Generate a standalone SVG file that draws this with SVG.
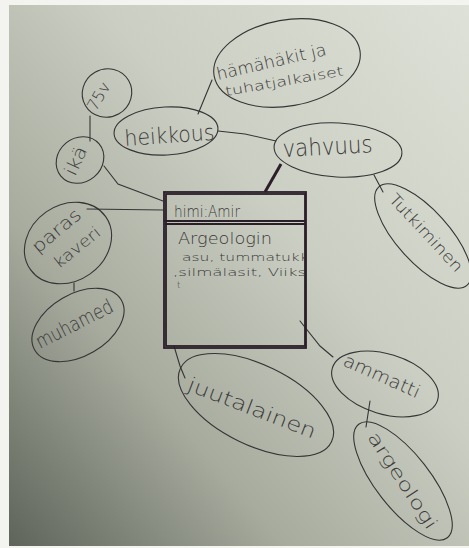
<svg xmlns="http://www.w3.org/2000/svg" width="469" height="548" viewBox="0 0 469 548">
  <defs>
    <linearGradient id="paper" x1="1" y1="0" x2="0" y2="1">
      <stop offset="0" stop-color="#dee1d7"/>
      <stop offset="0.4" stop-color="#cbcec2"/>
      <stop offset="0.7" stop-color="#a7ab9e"/>
      <stop offset="1" stop-color="#5e645a"/>
    </linearGradient>
    <clipPath id="boxClip">
      <rect x="166" y="224" width="139" height="122"/>
    </clipPath>
  </defs>
  <style>
    .bubble { fill: none; stroke: #353535; stroke-width: 1.1; }
    .link { fill: none; stroke: #353535; stroke-width: 1.1; stroke-linecap: round; }
    .frame { fill: none; stroke: #2a1e29; stroke-width: 1.8; }
    .hand { font-family: "DejaVu Sans", "Liberation Sans", sans-serif; fill: #3a3a3a; font-weight: 300; }
  </style>

  <!-- paper sheet -->
  <rect x="0" y="0" width="469" height="548" fill="#f3f3f0"/>
  <rect x="9" y="5" width="460" height="541" fill="url(#paper)"/>

  <!-- connectors -->
  <g id="connectors">
    <path class="link" d="M90,116 L90,141"/>
    <path class="link" d="M104,166 L118,184 L163,201"/>
    <path class="link" d="M87,209 L163,210"/>
    <path class="link" d="M198,114 L212,80"/>
    <path class="link" d="M218,131 L245,134 L276,141"/>
    <path d="M281,164 L265,192" fill="none" stroke="#2a1e29" stroke-width="3"/>
    <path class="link" d="M374,175 L383,192"/>
    <path class="link" d="M74,283 L74,291"/>
    <path class="link" d="M174,346 L180,366 L185,378"/>
    <path class="link" d="M300,321 L320,346 L333,357"/>
    <path class="link" d="M370,401 L366,427"/>
  </g>

  <g id="node-75v">
    <ellipse class="bubble" cx="107" cy="93" rx="25" ry="24" transform="rotate(-30 107 93)"/>
    <text class="hand" font-size="16" textLength="30" lengthAdjust="spacingAndGlyphs" transform="translate(96,112) rotate(-60)">75v</text>
  </g>

  <g id="node-ika">
    <ellipse class="bubble" cx="80" cy="160" rx="25" ry="22" transform="rotate(-40 80 160)"/>
    <text class="hand" font-size="18" textLength="30" lengthAdjust="spacingAndGlyphs" transform="translate(75,177) rotate(-65)">ikä</text>
  </g>

  <g id="node-heikkous">
    <ellipse class="bubble" cx="166" cy="131" rx="52" ry="24" transform="rotate(-3 166 131)"/>
    <text class="hand" font-size="22" textLength="90" lengthAdjust="spacingAndGlyphs" transform="translate(125,146) rotate(-4)">heikkous</text>
  </g>

  <g id="node-hamahakit">
    <ellipse class="bubble" cx="287" cy="63" rx="74" ry="43" transform="rotate(-10 287 63)"/>
    <text class="hand" font-size="17" textLength="112" lengthAdjust="spacingAndGlyphs" transform="translate(218,80) rotate(-13)">hämähäkit ja</text>
    <text class="hand" font-size="13" textLength="120" lengthAdjust="spacingAndGlyphs" transform="translate(226,96) rotate(-10)">tuhatjalkaiset</text>
  </g>

  <g id="node-vahvuus">
    <ellipse class="bubble" cx="338" cy="150" rx="64" ry="27" transform="rotate(3 338 150)"/>
    <text class="hand" font-size="24" textLength="90" lengthAdjust="spacingAndGlyphs" transform="translate(283,157) rotate(-3)">vahvuus</text>
  </g>

  <g id="node-tutkiminen">
    <ellipse class="bubble" cx="423" cy="236" rx="66" ry="26" transform="rotate(48 423 236)"/>
    <text class="hand" font-size="16" textLength="100" lengthAdjust="spacingAndGlyphs" transform="translate(388,200) rotate(47)">Tutkiminen</text>
  </g>

  <g id="node-name">
    <rect class="frame" x="164" y="192" width="142" height="156"/>
    <rect class="frame" x="166" y="194" width="139" height="152" stroke-width="0.9"/>
    <path class="frame" d="M164,221 L306,221 M165,224 L305,224" stroke-width="1.3"/>
    <text class="hand" font-size="16" textLength="66" lengthAdjust="spacingAndGlyphs" x="174" y="217">himi:Amir</text>
    <g clip-path="url(#boxClip)">
      <text class="hand" font-size="16" textLength="94" lengthAdjust="spacingAndGlyphs" x="178" y="244">Argeologin</text>
      <text class="hand" font-size="11" textLength="136" lengthAdjust="spacingAndGlyphs" x="182" y="261">asu, tummatukka</text>
      <text class="hand" font-size="11" textLength="150" lengthAdjust="spacingAndGlyphs" x="173" y="276">,silmälasit, Viikset</text>
      <text class="hand" font-size="9" x="177" y="288">t</text>
    </g>
  </g>

  <g id="node-paras-kaveri">
    <ellipse class="bubble" cx="68" cy="243" rx="46" ry="38" transform="rotate(-35 68 243)"/>
    <text class="hand" font-size="18" textLength="58" lengthAdjust="spacingAndGlyphs" transform="translate(38,254) rotate(-40)">paras</text>
    <text class="hand" font-size="16" textLength="55" lengthAdjust="spacingAndGlyphs" transform="translate(59,269) rotate(-39)">kaveri</text>
  </g>

  <g id="node-muhamed">
    <ellipse class="bubble" cx="78" cy="325" rx="50" ry="31" transform="rotate(-30 78 325)"/>
    <text class="hand" font-size="20" textLength="84" lengthAdjust="spacingAndGlyphs" transform="translate(40,349) rotate(-27)">muhamed</text>
  </g>

  <g id="node-juutalainen">
    <ellipse class="bubble" cx="256" cy="405" rx="84" ry="40" transform="rotate(26 256 405)"/>
    <text class="hand" font-size="20" textLength="136" lengthAdjust="spacingAndGlyphs" transform="translate(186,390) rotate(21)">juutalainen</text>
  </g>

  <g id="node-ammatti">
    <ellipse class="bubble" cx="385" cy="384" rx="55" ry="30" transform="rotate(17 385 384)"/>
    <text class="hand" font-size="18" textLength="82" lengthAdjust="spacingAndGlyphs" transform="translate(342,365) rotate(24)">ammatti</text>
  </g>

  <g id="node-argeologi">
    <ellipse class="bubble" cx="403" cy="481" rx="72" ry="27" transform="rotate(52 403 481)"/>
    <text class="hand" font-size="18" textLength="112" lengthAdjust="spacingAndGlyphs" transform="translate(367,437) rotate(57)">argeologi</text>
  </g>
</svg>
